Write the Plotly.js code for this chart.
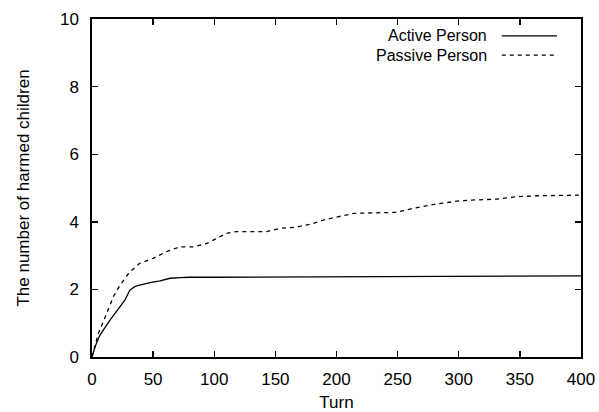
<!DOCTYPE html>
<html>
<head>
<meta charset="utf-8">
<script src="https://cdn.plot.ly/plotly-3.0.1.min.js"></script>
<style>html,body{margin:0;padding:0;background:#fff;} #chart{width:599px;height:412px;}</style>
</head>
<body>
<div id="chart"></div>
<script>
// Data
const activeTurn  = [0, 3, 6.5, 10, 14.7, 19, 23, 27, 31, 35, 39, 43, 47.5, 55.6, 63.8, 72, 80, 100, 154, 200, 250, 300, 350, 400];
const activeValue = [0, 0.35, 0.65, 0.85, 1.09, 1.3, 1.49, 1.69, 1.98, 2.08, 2.13, 2.17, 2.2, 2.25, 2.33, 2.35, 2.36, 2.36, 2.37, 2.38, 2.39, 2.39, 2.4, 2.4];

const passiveTurn  = [0, 2, 5.2, 12, 17.4, 23, 31, 39, 50, 61, 72, 83, 94, 102, 110, 118, 143, 154, 167, 181, 189, 214, 249, 263, 282, 301, 309, 331, 347, 364, 399];
const passiveValue = [0, 0.3, 0.7, 1.29, 1.78, 2.13, 2.52, 2.77, 2.92, 3.12, 3.26, 3.26, 3.36, 3.51, 3.66, 3.71, 3.71, 3.81, 3.84, 3.95, 4.05, 4.25, 4.28, 4.4, 4.53, 4.62, 4.64, 4.67, 4.74, 4.77, 4.79];

const seriesNames = ["Active Person", "Passive Person"];
const xTicks = [0, 50, 100, 150, 200, 250, 300, 350, 400];
const yTicks = [0, 2, 4, 6, 8, 10];

const font = {family: "Liberation Sans, Arial, sans-serif", size: 17, color: "#000"};
const legendFont = {family: "Liberation Sans, Arial, sans-serif", size: 16, color: "#000"};

const traces = [
  {x: activeTurn, y: activeValue, name: seriesNames[0], mode: "lines",
   line: {color: "#000", width: 1.3, dash: "solid"}, showlegend: false},
  {x: passiveTurn, y: passiveValue, name: seriesNames[1], mode: "lines",
   line: {color: "#000", width: 1.3, dash: "4px,4px"}, showlegend: false}
];

const axisCommon = {
  showgrid: false, zeroline: false, showline: true, linecolor: "#000", linewidth: 1.6,
  mirror: "allticks", ticks: "inside", ticklen: 6, tickwidth: 1.4, tickcolor: "#000",
  tickfont: font
};

const layout = {
  width: 599, height: 412,
  margin: {l: 92, r: 18, t: 19, b: 55},
  paper_bgcolor: "#fff", plot_bgcolor: "#fff",
  font: font,
  xaxis: Object.assign({}, axisCommon, {range: [0, 400], tickvals: xTicks, ticklabelstandoff: 6,
    title: {text: "Turn", font: font, standoff: 10}}),
  yaxis: Object.assign({}, axisCommon, {range: [0, 10], tickvals: yTicks, ticklabelstandoff: 8,
    title: {text: "The number of harmed children", font: font, standoff: 26}}),
  annotations: [
    {xref: "paper", yref: "paper", x: 0.812, y: 0.950, xanchor: "right", yanchor: "middle",
     text: seriesNames[0], showarrow: false, font: legendFont},
    {xref: "paper", yref: "paper", x: 0.812, y: 0.893, xanchor: "right", yanchor: "middle",
     text: seriesNames[1], showarrow: false, font: legendFont}
  ],
  shapes: [
    {type: "line", xref: "paper", yref: "paper", x0: 0.838, x1: 0.951, y0: 0.950, y1: 0.950,
     line: {color: "#000", width: 1.2}},
    {type: "line", xref: "paper", yref: "paper", x0: 0.838, x1: 0.951, y0: 0.893, y1: 0.893,
     line: {color: "#000", width: 1.2, dash: "4px,4px"}}
  ]
};

Plotly.newPlot("chart", traces, layout, {displayModeBar: false, staticPlot: true});
</script>
</body>
</html>
